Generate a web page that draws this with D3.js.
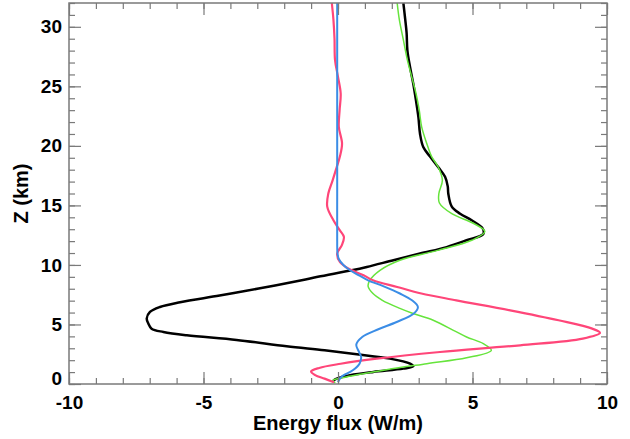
<!DOCTYPE html>
<html>
<head>
<meta charset="utf-8">
<script src="https://cdn.jsdelivr.net/npm/d3@7"></script>
<style>
  body { margin: 0; background: #fff; }
  #container text { font-family: "Liberation Sans", Arial, sans-serif; font-weight: bold; fill: #000; }
</style>
</head>
<body>
<div id="container"></div>
<script>

let width = 630;
let height = 439;
let margin = ({ top: 3, right: 23, bottom: 55, left: 69 });

// x and y ticks
let x_ticks = [-10, -5, 0, 5, 10];
let x_minor = d3.range(-10, 11, 1);
let y_ticks = [0, 5, 10, 15, 20, 25, 30];
let y_minor = d3.range(0, 33, 1);

// black
let black_z = [32, 30.6, 29.5, 28, 26.6, 25.2, 23.8, 22.4, 21, 19.9, 19.1, 18.2, 17.4, 16.6, 16, 14.9, 14.3, 13.75, 13.06, 12.6, 12.07, 11.5, 10.96, 10.4, 9.83, 9.55, 9.0, 8.71, 8.02, 7.43, 6.87, 6.47, 6.05, 5.5, 5.08, 4.65, 4.37, 4.09, 3.7, 3.17, 2.83, 2.5, 2.13, 1.71, 1.49, 1.29, 1.01, 0.73, 0.45, 0.3];
let black_flux = [2.43, 2.5, 2.55, 2.58, 2.68, 2.8, 2.9, 2.99, 3.05, 3.17, 3.42, 3.73, 3.98, 4.08, 4.1, 4.23, 4.54, 4.97, 5.38, 5.4, 4.78, 4.04, 3.05, 2.06, 1.07, 0.51, -0.75, -1.35, -2.95, -4.4, -5.87, -6.62, -6.99, -7.11, -7.05, -6.93, -6.49, -5.62, -3.77, -1.91, -0.5, 0.7, 1.93, 2.68, 2.8, 2.43, 1.31, 0.45, -0.05, -0.17];

// green
let green_z = [32, 30.6, 28.9, 27.2, 25.8, 24.4, 23, 21.6, 20.2, 19.1, 18.2, 17.1, 16.0, 15.2, 14.3, 13.5, 12.8, 12.07, 11.2, 10.4, 9.55, 8.7, 8.2, 7.6, 7.03, 6.35, 5.92, 5.35, 4.51, 3.95, 3.39, 2.83, 2.2, 1.71, 1.2, 0.59, 0.3, 0.1];
let green_flux = [2.2, 2.28, 2.43, 2.58, 2.74, 2.9, 3.02, 3.11, 3.3, 3.48, 3.73, 3.88, 3.75, 3.77, 4.23, 5.03, 5.46, 4.97, 3.67, 2.3, 1.56, 1.18, 1.12, 1.3, 1.65, 2.3, 2.79, 3.54, 4.29, 4.78, 5.4, 5.7, 4.78, 3.3, 1.8, 0.3, -0.2, -0.1];

// pink
let pink_z = [32, 30.6, 29, 27.2, 25.8, 24.4, 23, 21.6, 20.2, 19.1, 18.2, 17.1, 16.0, 14.9, 13.75, 12.9, 12.35, 11.65, 10.96, 10.25, 9.7, 9.13, 8.71, 8.15, 7.6, 7.03, 6.19, 5.35, 4.65, 4.29, 3.81, 3.25, 2.69, 2.13, 1.7, 1.35, 1.05, 0.75, 0.45, 0.15];
let pink_flux = [-0.23, -0.17, -0.13, -0.11, 0.0, 0.1, 0.06, 0.03, 0.15, 0.07, -0.05, -0.2, -0.36, -0.4, -0.17, 0.07, 0.22, 0.14, -0.03, 0.07, 0.38, 0.95, 1.3, 2.2, 3.1, 4.4, 6.4, 8.2, 9.45, 9.74, 9.1, 6.77, 3.79, 1.44, 0.1, -0.7, -1.0, -0.85, -0.5, -0.15];

// blue
let blue_z = [32, 28, 24, 20, 16, 12, 11.0, 10.5, 10.0, 9.55, 9.1, 8.71, 8.2, 7.6, 7.03, 6.47, 5.92, 5.21, 4.6, 3.95, 3.3, 2.7, 2.27, 1.71, 1.15, 0.59, 0.15];
let blue_flux = [-0.03, -0.03, -0.03, -0.03, -0.03, -0.03, -0.02, 0.03, 0.2, 0.45, 0.8, 1.12, 1.7, 2.3, 2.75, 2.97, 2.82, 2.18, 1.5, 0.9, 0.68, 0.78, 0.86, 0.8, 0.55, 0.12, 0.0];

let axis_color = "#7a7a7a";

function render() {

  let x = d3.scaleLinear().domain([-10, 10]).range([margin.left, width - margin.right]);
  let y = d3.scaleLinear().domain([0, 32]).range([height - margin.bottom, margin.top]);

  let svg = d3.select("#container")
    .append("svg")
    .attr("width", width)
    .attr("height", height);

  let line = d3.line()
    .x(function (d) { return x(d[1]); })
    .y(function (d) { return y(d[0]); })
    .curve(d3.curveCatmullRom.alpha(0.5));

  let series = [
    { z: black_z, flux: black_flux, color: "#000000", w: 2.5 },
    { z: green_z, flux: green_flux, color: "#66e43c", w: 1.5 },
    { z: pink_z, flux: pink_flux, color: "#ff4679", w: 2.2 },
    { z: blue_z, flux: blue_flux, color: "#3b8de6", w: 2 }
  ];

  series.forEach(function (s) {
    svg.append("path")
      .datum(d3.zip(s.z, s.flux))
      .attr("fill", "none")
      .attr("stroke", s.color)
      .attr("stroke-width", s.w)
      .attr("stroke-linejoin", "round")
      .attr("d", line);
  });

  // minor ticks, all four sides, pointing in
  let bottom = height - margin.bottom;
  let right = width - margin.right;

  function style_axis(g) {
    g.select(".domain").remove();
    g.selectAll("line").attr("stroke", axis_color).attr("stroke-width", 1.2);
  }

  svg.append("g").attr("transform", "translate(0," + bottom + ")")
    .call(d3.axisBottom(x).tickValues(x_minor).tickFormat("").tickSizeInner(-6).tickSizeOuter(0)).call(style_axis);
  svg.append("g").attr("transform", "translate(0," + margin.top + ")")
    .call(d3.axisTop(x).tickValues(x_minor).tickFormat("").tickSizeInner(-6).tickSizeOuter(0)).call(style_axis);
  svg.append("g").attr("transform", "translate(" + margin.left + ",0)")
    .call(d3.axisLeft(y).tickValues(y_minor).tickFormat("").tickSizeInner(-6).tickSizeOuter(0)).call(style_axis);
  svg.append("g").attr("transform", "translate(" + right + ",0)")
    .call(d3.axisRight(y).tickValues(y_minor).tickFormat("").tickSizeInner(-6).tickSizeOuter(0)).call(style_axis);

  // major ticks
  let xa = svg.append("g").attr("transform", "translate(0," + bottom + ")")
    .call(d3.axisBottom(x).tickValues(x_ticks).tickFormat(d3.format("d")).tickSizeInner(-12).tickSizeOuter(0).tickPadding(12))
    .call(style_axis);
  xa.selectAll("text").style("font-size", "19px").text(function (d) { return d < 0 ? "-" + Math.abs(d) : d; });

  svg.append("g").attr("transform", "translate(0," + margin.top + ")")
    .call(d3.axisTop(x).tickValues(x_ticks).tickFormat("").tickSizeInner(-12).tickSizeOuter(0)).call(style_axis);

  let ya = svg.append("g").attr("transform", "translate(" + margin.left + ",0)")
    .call(d3.axisLeft(y).tickValues(y_ticks).tickFormat(d3.format("d")).tickSizeInner(-12).tickSizeOuter(0).tickPadding(7))
    .call(style_axis);
  ya.selectAll("text").style("font-size", "19px");
  ya.selectAll(".tick").filter(function (d) { return d === 0; }).select("text").attr("dy", "0.0em");

  svg.append("g").attr("transform", "translate(" + right + ",0)")
    .call(d3.axisRight(y).tickValues(y_ticks).tickFormat("").tickSizeInner(-12).tickSizeOuter(0)).call(style_axis);

  // frame
  svg.append("rect")
    .attr("x", margin.left)
    .attr("y", margin.top)
    .attr("width", right - margin.left)
    .attr("height", bottom - margin.top)
    .attr("fill", "none")
    .attr("stroke", axis_color)
    .attr("stroke-width", 1.5);

  svg.append("text")
    .attr("x", (margin.left + right) / 2)
    .attr("y", 430)
    .attr("text-anchor", "middle")
    .style("font-size", "20px")
    .text("Energy flux (W/m)");

  svg.append("text")
    .attr("transform", "translate(28," + (margin.top + bottom) / 2 + ") rotate(-90)")
    .attr("text-anchor", "middle")
    .style("font-size", "20px")
    .text("Z (km)");
}

render()

</script>
</body>
</html>
